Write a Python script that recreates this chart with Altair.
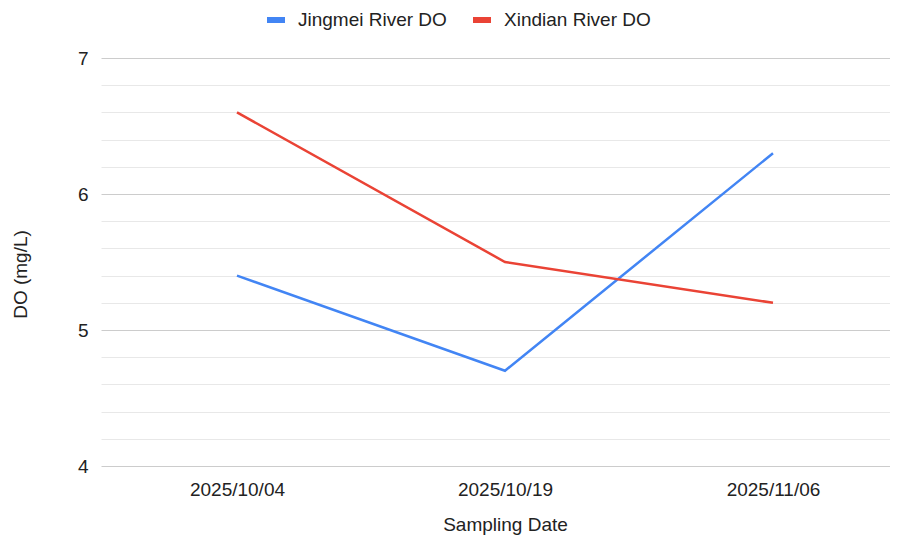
import altair as alt
import pandas as pd

dates = ["2025/10/04", "2025/10/19", "2025/11/06"]
jingmei = [5.4, 4.7, 6.3]
xindian = [6.6, 5.5, 5.2]
series_names = ["Jingmei River DO", "Xindian River DO"]
series_colors = ["#4285F4", "#EA4335"]
y_ticks = [4.0, 4.2, 4.4, 4.6, 4.8, 5.0, 5.2, 5.4, 5.6, 5.8, 6.0, 6.2, 6.4, 6.6, 6.8, 7.0]

rows = []
for name, vals in zip(series_names, [jingmei, xindian]):
    for i, (d, v) in enumerate(zip(dates, vals)):
        rows.append({"date": d, "series": name, "value": v, "order": i})
df = pd.DataFrame(rows)

FONT = "Liberation Sans"
FS = 19

chart = alt.Chart(df).mark_line(strokeWidth=2.5).encode(
    x=alt.X("date:N", sort=dates, title="Sampling Date",
            scale=alt.Scale(type="point", padding=0.472, align=0.5375),
            axis=alt.Axis(labelAngle=0, ticks=False, domain=False, grid=False,
                          labelPadding=14, labelFontSize=FS, labelColor="#222222",
                          titleFontSize=FS, titleFontWeight="normal", titleColor="#222222",
                          titleX=404, titleY=58, titleBaseline="middle", titleAlign="center",
                          labelFont=FONT, titleFont=FONT)),
    y=alt.Y("value:Q", title="DO (mg/L)",
            scale=alt.Scale(domain=[4, 7], nice=False, zero=False),
            axis=alt.Axis(values=y_ticks, ticks=False, domain=False,
                          labelExpr="datum.value % 1 == 0 ? format(datum.value, 'd') : ''",
                          labelPadding=13, labelFontSize=FS, labelColor="#222222",
                          gridColor={"condition": {"test": "datum.value % 1 == 0", "value": "#cccccc"},
                                     "value": "#e8e8e8"},
                          titleFontSize=FS, titleFontWeight="normal", titleColor="#222222",
                          titleX=-81, titleY=216, titleAngle=270, titleBaseline="middle",
                          titleAlign="center", labelFont=FONT, titleFont=FONT)),
    color=alt.Color("series:N", title=None,
                    scale=alt.Scale(domain=series_names, range=series_colors),
                    legend=alt.Legend(orient="none", legendX=163, legendY=-50,
                                      direction="horizontal", symbolType="stroke",
                                      symbolStrokeWidth=6, symbolSize=324,
                                      labelFontSize=FS, labelColor="#222222",
                                      labelFont=FONT, labelOffset=10, columnPadding=14)),
    order="order:Q",
).properties(
    width=789, height=408,
    autosize=alt.AutoSizeParams(type="none"),
    padding={"left": 93, "top": 50, "right": 0, "bottom": 71},
).configure(font=FONT).configure_view(stroke=None)

chart.save("out.html", embed_options={"renderer": "svg", "actions": False})
